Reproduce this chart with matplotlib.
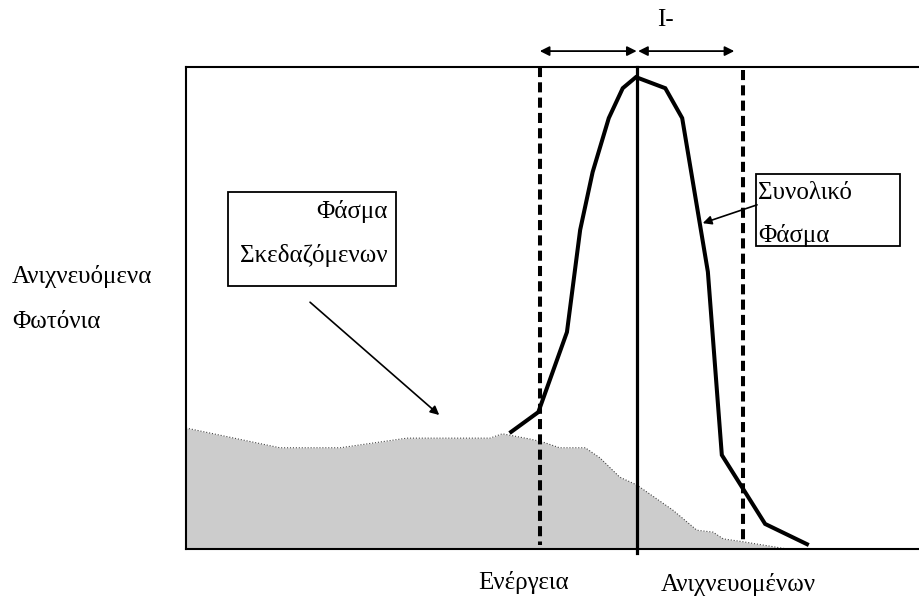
import matplotlib.pyplot as plt
from matplotlib.patches import Rectangle

plt.rcParams['font.family'] = ['Liberation Serif', 'DejaVu Serif']

# Scattered spectrum (grey area), arbitrary units
scat_x = [0.0, 12.8, 21.0, 30.1, 41.4, 43.1, 46.9, 48.6, 50.9, 54.4, 56.4, 59.1,
          61.4, 66.3, 69.6, 71.8, 73.2, 75.9, 81.9, 88.1]
scat_y = [25.1, 21.0, 21.0, 23.0, 23.0, 23.9, 22.8, 22.2, 21.0, 21.0, 18.9, 14.9,
          13.3, 8.1, 3.9, 3.5, 2.1, 1.5, 0.0, 0.0]

# Total spectrum (black curve)
tot_x = [44.3, 48.0, 51.9, 53.7, 55.4, 57.6, 59.5, 61.3, 65.3, 67.6, 71.1, 73.0, 78.9, 84.6]
tot_y = [24.3, 28.4, 45.0, 66.2, 78.2, 89.4, 95.6, 97.9, 95.6, 89.4, 57.5, 19.5, 5.2, 1.0]

# window edges and photopeak centre
win_left = 48.2
peak_x = 61.4
win_right = 75.9
arrow_right_end = 74.7

fig = plt.figure(figsize=(9.2, 5.96), dpi=100)
ax = fig.add_axes([186 / 920, 47 / 596, 734 / 920, 482 / 596])
ax.set_xlim(0, 100)
ax.set_ylim(0, 100)
ax.set_xticks([])
ax.set_yticks([])
ax.spines['right'].set_visible(False)
for s in ['left', 'top', 'bottom']:
    ax.spines[s].set_linewidth(1.5)

# scattered photons
ax.fill_between(scat_x, scat_y, 0, color='#cccccc', lw=0, zorder=1)
ax.plot(scat_x, scat_y, color='#444444', lw=0.8, ls=':', zorder=2)

# energy window
dash = (0, (2.5, 1.3))
ax.plot([win_left, win_left], [100, 0.8], color='black', lw=2.9, ls=dash, zorder=3)
ax.plot([win_right, win_right], [99.4, 1.2], color='black', lw=2.9, ls=dash, zorder=3)

# total spectrum
ax.plot(tot_x, tot_y, color='black', lw=2.9, solid_joinstyle='miter', zorder=4)

# photopeak line
ax.plot([peak_x, peak_x], [100, -0.8], color='black', lw=2.3, clip_on=False, zorder=5)

# window width arrows
arr = dict(arrowstyle='<|-|>', color='black', lw=1.3, mutation_scale=14, shrinkA=0, shrinkB=0)
ax.annotate('', xy=(win_left, 103.3), xytext=(peak_x, 103.3), arrowprops=arr, annotation_clip=False)
ax.annotate('', xy=(peak_x + 0.2, 103.3), xytext=(arrow_right_end, 103.3), arrowprops=arr,
            annotation_clip=False)
ax.text(65.3, 109.8, 'I-', fontsize=18, ha='center', va='center', clip_on=False)

fs = 18
# scattered spectrum label box
ax.add_patch(Rectangle((5.7, 54.6), 22.9, 19.5, fill=False, lw=1.3, color='black', zorder=6))
ax.text(27.5, 70.0, 'Φάσμα', fontsize=fs, ha='right', va='center', zorder=6)
ax.text(27.5, 60.9, 'Σκεδαζόμενων', fontsize=fs, ha='right', va='center', zorder=6)
ax.annotate('', xy=(34.5, 27.8), xytext=(16.9, 51.2),
            arrowprops=dict(arrowstyle='-|>', color='black', lw=1.2, mutation_scale=13,
                            shrinkA=0, shrinkB=0))

# total spectrum label box
ax.add_patch(Rectangle((77.7, 62.9), 19.6, 14.9, fill=False, lw=1.3, color='black', zorder=6))
ax.text(77.9, 73.9, 'Συνολικό', fontsize=fs, ha='left', va='center', zorder=6)
ax.text(77.9, 65.1, 'Φάσμα', fontsize=fs, ha='left', va='center', zorder=6)
ax.annotate('', xy=(70.4, 67.6), xytext=(77.8, 71.4),
            arrowprops=dict(arrowstyle='-|>', color='black', lw=1.2, mutation_scale=13,
                            shrinkA=0, shrinkB=0))

# axis labels
fig.text(12 / 920, 1 - 276 / 596, 'Ανιχνευόμενα', fontsize=fs, ha='left', va='center')
fig.text(12 / 920, 1 - 322 / 596, 'Φωτόνια', fontsize=fs, ha='left', va='center')
fig.text(524 / 920, 1 - 583 / 596, 'Ενέργεια', fontsize=fs, ha='center', va='center')
fig.text(738 / 920, 1 - 584 / 596, 'Ανιχνευομένων', fontsize=fs, ha='center', va='center')

fig.savefig('out.png', dpi=100)
